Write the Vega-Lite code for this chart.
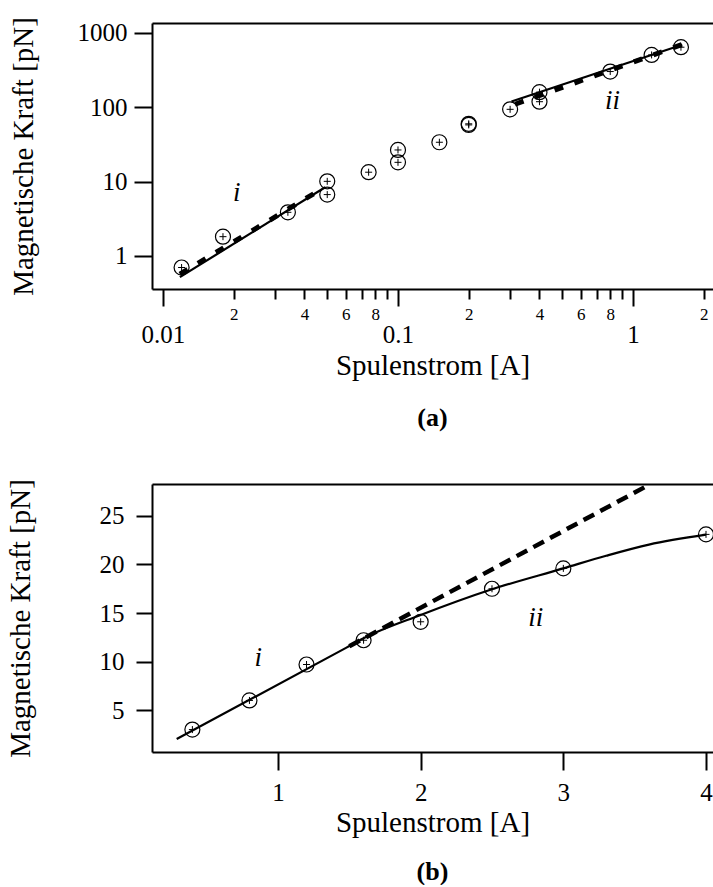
{
  "$schema": "https://vega.github.io/schema/vega-lite/v6.json",
  "background": "white",
  "padding": {"left": 6, "top": 16, "right": 0, "bottom": 0},
  "spacing": 195,
  "bounds": "flush",
  "config": {
    "font": "Liberation Serif",
    "view": {"stroke": null},
    "axis": {
      "grid": false,
      "domainColor": "black",
      "domainWidth": 2,
      "tickColor": "black",
      "tickWidth": 2,
      "labelColor": "black",
      "titleColor": "black",
      "labelFont": "Liberation Serif",
      "titleFont": "Liberation Serif",
      "titleFontWeight": "normal",
      "labelOverlap": false,
      "labelFlush": false,
      "labelBound": false
    }
  },
  "datasets": {
    "ptsA": [
      {"I": 0.012, "F": 0.70}, {"I": 0.018, "F": 1.82}, {"I": 0.034, "F": 3.87},
      {"I": 0.05, "F": 10.1}, {"I": 0.05, "F": 6.7}, {"I": 0.075, "F": 13.4},
      {"I": 0.1, "F": 18.2}, {"I": 0.1, "F": 26.7}, {"I": 0.15, "F": 33.9},
      {"I": 0.2, "F": 58}, {"I": 0.2, "F": 60}, {"I": 0.3, "F": 94},
      {"I": 0.4, "F": 160}, {"I": 0.4, "F": 119}, {"I": 0.8, "F": 303},
      {"I": 1.2, "F": 507}, {"I": 1.6, "F": 644}
    ],
    "solidA": [
      {"I": 0.0118, "F": 0.52, "seg": "i"}, {"I": 0.049, "F": 8.4, "seg": "i"},
      {"I": 0.304, "F": 120, "seg": "ii"}, {"I": 1.62, "F": 695, "seg": "ii"}
    ],
    "dashA": [
      {"I": 0.0118, "F": 0.57, "seg": "i"}, {"I": 0.048, "F": 8.2, "seg": "i"},
      {"I": 0.315, "F": 110, "seg": "ii"}, {"I": 1.62, "F": 700, "seg": "ii"}
    ],
    "textA": [
      {"I": 0.0206, "F": 5.55, "t": "i"},
      {"I": 0.818, "F": 95.2, "t": "ii"}
    ],
    "ptsB": [
      {"I": 0.4, "F": 3.0}, {"I": 0.8, "F": 6.0}, {"I": 1.2, "F": 9.7},
      {"I": 1.6, "F": 12.2}, {"I": 2.0, "F": 14.1}, {"I": 2.5, "F": 17.5},
      {"I": 3.0, "F": 19.6}, {"I": 4.0, "F": 23.1}
    ],
    "solidB": [
      {"I": 0.29, "F": 2.02}, {"I": 1.48, "F": 11.44}, {"I": 1.6, "F": 12.4},
      {"I": 2.0, "F": 14.8}, {"I": 2.5, "F": 17.45}, {"I": 3.0, "F": 19.6},
      {"I": 3.3, "F": 20.9}, {"I": 3.6, "F": 22.05}, {"I": 4.0, "F": 23.07}
    ],
    "dashB": [
      {"I": 1.5, "F": 11.59}, {"I": 3.57, "F": 27.96}
    ],
    "textB": [
      {"I": 0.862, "F": 9.55, "t": "i"},
      {"I": 2.807, "F": 13.66, "t": "ii"}
    ]
  },
  "vconcat": [
    {
      "width": 561,
      "height": 266,
      "title": {"text": "(a)", "orient": "bottom", "anchor": "middle", "font": "Liberation Serif", "fontSize": 26, "fontWeight": "bold", "color": "black", "offset": 25},
      "resolve": {"axis": {"x": "independent"}},
      "layer": [
        {
          "data": {"name": "ptsA"},
          "mark": {"type": "point", "shape": "circle", "size": 225, "filled": false, "stroke": "black", "strokeWidth": 1.2, "opacity": 1},
          "encoding": {
            "x": {
              "field": "I", "type": "quantitative",
              "scale": {"type": "log", "domain": [0.00898, 2.19], "nice": false},
              "axis": {
                "orient": "bottom",
                "values": [0.01, 0.02, 0.03, 0.04, 0.05, 0.06, 0.07, 0.08, 0.09, 0.1, 0.2, 0.3, 0.4, 0.5, 0.6, 0.7, 0.8, 0.9, 1, 2],
                "labelExpr": "datum.value==0.01?'0.01':datum.value==0.1?'0.1':datum.value==1?'1':(datum.value==0.02||datum.value==0.2||datum.value==2)?'2':(datum.value==0.04||datum.value==0.4)?'4':(datum.value==0.06||datum.value==0.6)?'6':(datum.value==0.08||datum.value==0.8)?'8':''",
                "tickSize": {"condition": {"test": "datum.value==0.01||datum.value==0.1||datum.value==1", "value": 17}, "value": 10},
                "labelFontSize": {"condition": {"test": "datum.value==0.01||datum.value==0.1||datum.value==1", "value": 25}, "value": 17},
                "labelPadding": {"condition": {"test": "datum.value==0.01||datum.value==0.1||datum.value==1", "value": 16}, "value": 7},
                "title": "Spulenstrom [A]",
                "titleFontSize": 29,
                "titlePadding": 4
              }
            },
            "y": {
              "field": "F", "type": "quantitative",
              "scale": {"type": "log", "domain": [0.3597, 1363], "nice": false},
              "axis": {
                "values": [1, 10, 100, 1000],
                "format": "d",
                "tickSize": 18,
                "labelFontSize": 25,
                "labelPadding": 7,
                "title": "Magnetische Kraft [pN]",
                "titleFontSize": 29,
                "titlePadding": 39
              }
            }
          }
        },
        {
          "data": {"name": "ptsA"},
          "mark": {"type": "point", "shape": "M-1,0H1M0,-1V1", "size": 49, "filled": false, "stroke": "black", "strokeWidth": 1, "opacity": 1},
          "encoding": {
            "x": {"field": "I", "type": "quantitative", "scale": {"type": "log", "domain": [0.00898, 2.19], "nice": false}, "axis": null},
            "y": {"field": "F", "type": "quantitative", "scale": {"type": "log", "domain": [0.3597, 1363], "nice": false}}
          }
        },
        {
          "data": {"name": "solidA"},
          "mark": {"type": "line", "stroke": "black", "strokeWidth": 2.2},
          "encoding": {
            "x": {"field": "I", "type": "quantitative", "scale": {"type": "log", "domain": [0.00898, 2.19], "nice": false}, "axis": null},
            "y": {"field": "F", "type": "quantitative", "scale": {"type": "log", "domain": [0.3597, 1363], "nice": false}},
            "detail": {"field": "seg"}
          }
        },
        {
          "data": {"name": "dashA"},
          "mark": {"type": "line", "stroke": "black", "strokeWidth": 5, "strokeDash": [9, 12]},
          "encoding": {
            "x": {"field": "I", "type": "quantitative", "scale": {"type": "log", "domain": [0.00898, 2.19], "nice": false},
              "axis": {"orient": "top", "domain": true, "ticks": false, "labels": false, "title": null}},
            "y": {"field": "F", "type": "quantitative", "scale": {"type": "log", "domain": [0.3597, 1363], "nice": false}},
            "detail": {"field": "seg"}
          }
        },
        {
          "data": {"name": "textA"},
          "mark": {"type": "text", "font": "Liberation Serif", "fontStyle": "italic", "fontSize": 27, "align": "center", "baseline": "alphabetic", "color": "black"},
          "encoding": {
            "x": {"field": "I", "type": "quantitative", "scale": {"type": "log", "domain": [0.00898, 2.19], "nice": false}, "axis": null},
            "y": {"field": "F", "type": "quantitative", "scale": {"type": "log", "domain": [0.3597, 1363], "nice": false}},
            "text": {"field": "t"}
          }
        }
      ]
    },
    {
      "width": 561,
      "height": 268,
      "title": {"text": "(b)", "orient": "bottom", "anchor": "middle", "font": "Liberation Serif", "fontSize": 26, "fontWeight": "bold", "color": "black", "offset": 22},
      "resolve": {"axis": {"x": "independent"}},
      "layer": [
        {
          "data": {"name": "ptsB"},
          "mark": {"type": "point", "shape": "circle", "size": 225, "filled": false, "stroke": "black", "strokeWidth": 1.2, "opacity": 1},
          "encoding": {
            "x": {
              "field": "I", "type": "quantitative",
              "scale": {"domain": [0.117, 4.049], "nice": false, "zero": false},
              "axis": {
                "orient": "bottom",
                "values": [1, 2, 3, 4],
                "format": "d",
                "tickSize": 18,
                "labelFontSize": 25,
                "labelPadding": 10,
                "title": "Spulenstrom [A]",
                "titleFontSize": 29,
                "titlePadding": 3
              }
            },
            "y": {
              "field": "F", "type": "quantitative",
              "scale": {"domain": [0.69, 28.29], "nice": false, "zero": false},
              "axis": {
                "values": [5, 10, 15, 20, 25],
                "format": "d",
                "tickSize": 16,
                "labelFontSize": 25,
                "labelPadding": 12,
                "title": "Magnetische Kraft [pN]",
                "titleFontSize": 29,
                "titlePadding": 64
              }
            }
          }
        },
        {
          "data": {"name": "ptsB"},
          "mark": {"type": "point", "shape": "M-1,0H1M0,-1V1", "size": 49, "filled": false, "stroke": "black", "strokeWidth": 1, "opacity": 1},
          "encoding": {
            "x": {"field": "I", "type": "quantitative", "scale": {"domain": [0.117, 4.049], "nice": false, "zero": false}, "axis": null},
            "y": {"field": "F", "type": "quantitative", "scale": {"domain": [0.69, 28.29], "nice": false, "zero": false}}
          }
        },
        {
          "data": {"name": "solidB"},
          "mark": {"type": "line", "stroke": "black", "strokeWidth": 2.2, "interpolate": "monotone"},
          "encoding": {
            "x": {"field": "I", "type": "quantitative", "scale": {"domain": [0.117, 4.049], "nice": false, "zero": false}, "axis": null},
            "y": {"field": "F", "type": "quantitative", "scale": {"domain": [0.69, 28.29], "nice": false, "zero": false}}
          }
        },
        {
          "data": {"name": "dashB"},
          "mark": {"type": "line", "stroke": "black", "strokeWidth": 4.5, "strokeDash": [12, 7]},
          "encoding": {
            "x": {"field": "I", "type": "quantitative", "scale": {"domain": [0.117, 4.049], "nice": false, "zero": false},
              "axis": {"orient": "top", "domain": true, "ticks": false, "labels": false, "title": null}},
            "y": {"field": "F", "type": "quantitative", "scale": {"domain": [0.69, 28.29], "nice": false, "zero": false}}
          }
        },
        {
          "data": {"name": "textB"},
          "mark": {"type": "text", "font": "Liberation Serif", "fontStyle": "italic", "fontSize": 27, "align": "center", "baseline": "alphabetic", "color": "black"},
          "encoding": {
            "x": {"field": "I", "type": "quantitative", "scale": {"domain": [0.117, 4.049], "nice": false, "zero": false}, "axis": null},
            "y": {"field": "F", "type": "quantitative", "scale": {"domain": [0.69, 28.29], "nice": false, "zero": false}},
            "text": {"field": "t"}
          }
        }
      ]
    }
  ]
}
